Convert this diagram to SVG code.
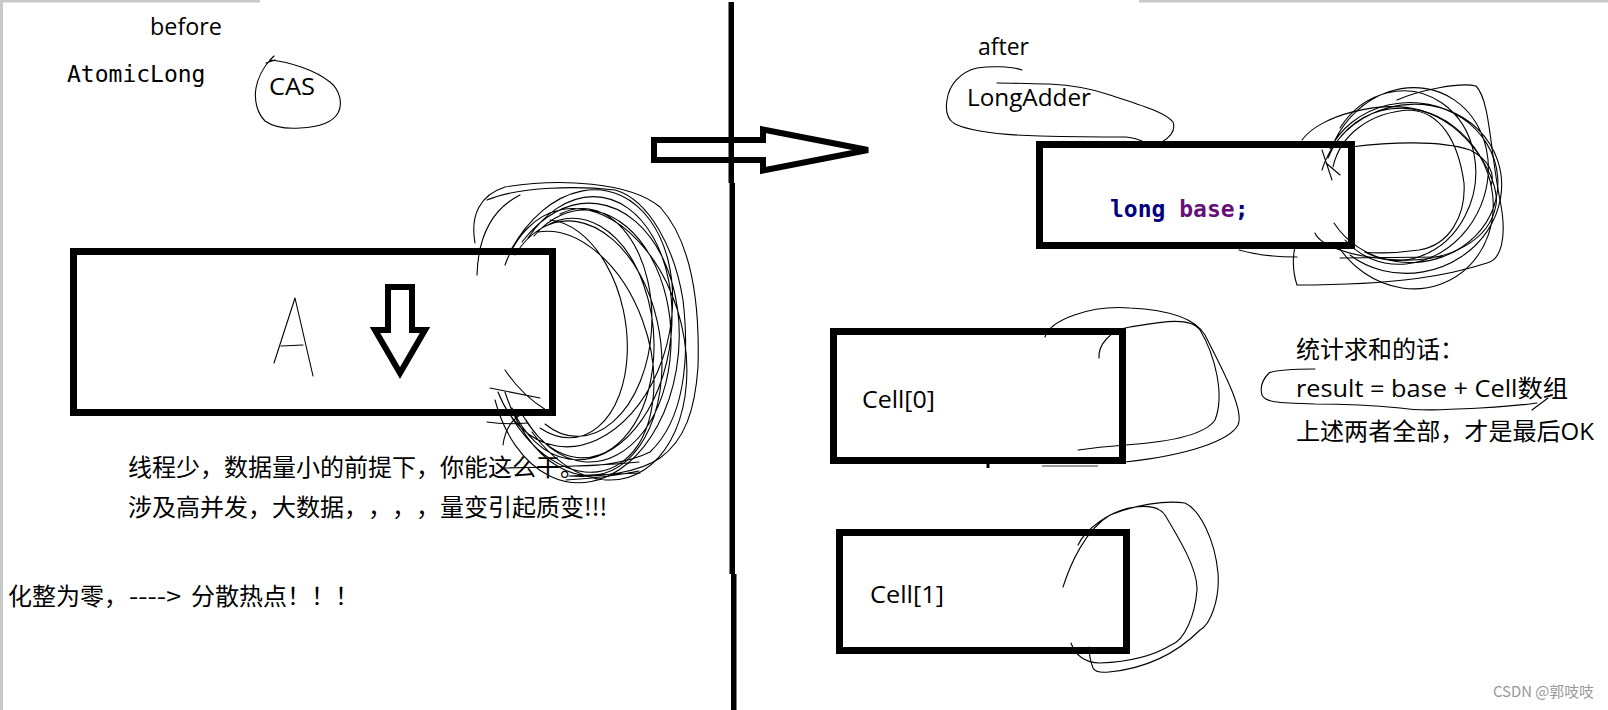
<svg xmlns="http://www.w3.org/2000/svg" width="1608" height="710" viewBox="0 0 1608 710">
<style>
text{text-spacing-trim:space-all}
.box{fill:none;stroke:#000;stroke-width:7}
.scr{fill:none;stroke:#000;stroke-width:1.1;stroke-linecap:round;stroke-linejoin:round}
.arr{fill:none;stroke:#000;stroke-width:6;stroke-linejoin:miter}
.cjk{font-family:"Noto Sans CJK SC",sans-serif;font-size:24px;fill:#000}
.sans{font-family:"Open Sans","Noto Sans CJK SC",sans-serif;font-size:24px;fill:#000}
.mono{font-family:"DejaVu Sans Mono","Liberation Mono",monospace;font-size:23px;fill:#000}
.frame{fill:#c8c8c8}
</style>
<rect width="1608" height="710" fill="#fff"/>
<g id="frame">
<rect class="frame" x="0" y="0" width="3" height="710"/>
<rect class="frame" x="0" y="0" width="260" height="2.5"/>
<rect class="frame" x="1139" y="0" width="469" height="2.5"/>
</g>
<g id="divider" fill="#000">
<rect x="728.5" y="2" width="5.5" height="181"/>
<rect x="729.5" y="183" width="5.5" height="391"/>
<rect x="731" y="574" width="5.5" height="136"/>
</g>
<g id="before-label"><text class="sans" x="150" y="35" font-size="23" textLength="72" lengthAdjust="spacingAndGlyphs">before</text></g>
<g id="atomiclong"><text class="mono" x="67" y="82">AtomicLong</text></g>
<g id="cas">
<text class="sans" x="269" y="95" font-size="25" textLength="46" lengthAdjust="spacingAndGlyphs">CAS</text>
<path class="scr" d="M270 60 C290 62 315 70 330 82 C340 90 343 104 338 113 C333 122 320 127 300 128 C285 129 272 126 265 121 C257 113 254 100 256 88 C258 77 263 68 270 60 L274 56 M266 63 L275 60"/>
</g>
<g id="box-a">
<rect class="box" x="73.5" y="251.5" width="479" height="161"/>
<path class="scr" d="M274 363 L295 298 L313 376 M281 346 L303 345" stroke-width="1.3"/>
<path class="scr" d="M515 255 A82 128 -8 1 1 505 392 M528 238 A86 132 6 1 1 512 408 M546 226 A76 120 -4 1 1 522 414 M505 265 A92 138 -14 1 1 532 432 M560 214 A72 114 2 1 1 545 424 M512 248 A90 130 12 1 1 498 392 M538 232 A80 124 -18 1 1 512 418 M522 242 A95 140 4 1 1 495 400 M550 220 A68 110 -10 1 1 540 428 M534 236 A84 126 -2 1 1 526 420"/>
<path class="scr" d="M475 243 C470 215 480 195 505 187 C560 178 630 182 660 207 C690 240 700 300 698 367 C695 410 685 440 660 458 C640 472 600 478 569 476 L640 473 M487 200 C520 186 580 186 615 190 C650 200 675 250 683 300 C690 360 684 420 650 452 C630 462 600 466 580 466 M501 468 C560 467 610 465 639 462 M566 480 C600 478 625 474 639 471 M505 370 C515 385 530 400 546 410 M487 422 C500 424 515 424 528 423 M490 388 L540 398 M477 275 C478 240 490 210 520 195 M503 445 C505 430 512 420 520 415"/>
</g>
<g id="notes-left">
<text class="cjk" x="128" y="476">线程少，数据量小的前提下，你能这么干。</text>
<text class="cjk" y="516"><tspan x="128">涉及高并发，大数据</tspan><tspan x="344">，</tspan><tspan x="368">，</tspan><tspan x="392">，</tspan><tspan x="416">，</tspan><tspan x="440">量变引起质变!!!</tspan></text>
<text class="cjk" y="605"><tspan x="8">化整为零，</tspan><tspan x="129" textLength="52" lengthAdjust="spacingAndGlyphs">----&gt;</tspan><tspan x="191">分散热点！！！</tspan></text>
</g>
<g id="connectors">
<path class="arr" d="M654 140 L763 140 L763 129.5 L868 150 L763 170.5 L763 160 L654 160 Z"/>
<path class="arr" d="M388 287 L412 287 L412 330 L425 330 L400 373 L375 330 L388 330 Z"/>
</g>
<g id="after-label"><text class="sans" x="978" y="55" font-size="22" textLength="51" lengthAdjust="spacingAndGlyphs">after</text></g>
<g id="longadder">
<text class="sans" x="967" y="106" font-size="22" textLength="124" lengthAdjust="spacingAndGlyphs">LongAdder</text>
<path class="scr" d="M1022 70 C1010 66 990 66 977 68 C960 72 949 85 947 100 C945 112 948 120 955 124 C970 131 1000 135 1040 136 C1080 137 1110 137 1126 137 C1135 138 1140 140 1144 142 M997 83 C1015 83 1035 84 1049 84 C1070 85 1090 88 1110 95 C1140 105 1165 112 1173 122 C1176 130 1170 137 1162 142"/>
</g>
<g id="box-base">
<rect class="box" x="1039.5" y="144.5" width="312" height="101"/>
<text class="mono" x="1110" y="217" font-weight="bold"><tspan fill="#000080">long</tspan> <tspan fill="#660e7a">base</tspan><tspan fill="#000080">;</tspan></text>
<path class="scr" d="M1330 149 A88 80 0 1 1 1334 223 M1335 140 A80 90 25 1 1 1345 240 M1322 170 A92 84 -15 1 1 1350 255 M1340 128 A75 85 10 1 1 1365 252 M1328 158 A84 92 -28 1 1 1338 246"/>
<path class="scr" d="M1302 140 C1320 115 1380 100 1420 110 C1470 125 1500 180 1496 205 C1490 240 1450 262 1400 260 C1350 258 1320 245 1315 233 M1397 100 C1420 90 1460 82 1476 86 C1490 100 1490 150 1500 200 C1508 240 1500 260 1487 263 C1450 275 1400 285 1297 285 C1292 270 1293 255 1295 247 M1351 147 C1390 142 1440 140 1470 150 C1490 160 1495 175 1491 185 M1239 250 C1260 256 1280 257 1297 257 M1340 258 L1442 257 M1333 167 C1340 135 1370 112 1410 110 C1440 112 1458 140 1464 183 C1466 215 1450 245 1419 250 C1390 254 1370 253 1365 252 M1322 150 L1332 180 M1326 163 L1340 175"/>
</g>
<g id="cell0">
<rect class="box" x="833.5" y="331.5" width="289" height="129"/>
<text class="sans" x="862" y="408" textLength="73" lengthAdjust="spacingAndGlyphs">Cell[0]</text>
<path d="M988 463 L988 468" stroke="#000" stroke-width="3"/>
<path d="M1042 466 L1098 466" stroke="#777" stroke-width="1.5"/>
<path class="scr" d="M1045 337 C1050 320 1090 305 1130 308 C1170 310 1195 318 1205 335 C1220 365 1245 410 1238 425 C1230 440 1190 455 1125 462 M1099 358 C1098 345 1110 330 1130 327 C1160 322 1190 316 1200 330 C1215 355 1225 395 1215 420 C1205 435 1170 442 1125 445 C1100 447 1085 449 1078 450"/>
</g>
<g id="cell1">
<rect class="box" x="839.5" y="532.5" width="287" height="118"/>
<text class="sans" x="870" y="603" textLength="74" lengthAdjust="spacingAndGlyphs">Cell[1]</text>
<path class="scr" d="M1078 545 C1085 530 1110 510 1135 507 C1150 505 1160 508 1165 515 C1180 540 1198 570 1197 590 C1195 615 1185 640 1171 645 C1150 658 1125 662 1100 663 C1085 663 1075 655 1071 643 M1063 587 C1070 565 1085 530 1110 515 C1135 505 1165 500 1185 503 C1200 510 1215 540 1218 573 C1220 600 1210 625 1200 630 C1180 650 1150 668 1109 672 C1100 673 1095 672 1093 668 C1090 660 1089 652 1089 647"/>
</g>
<g id="sum-note">
<text class="cjk" x="1296" y="358">统计求和的话：</text>
<text class="sans" x="1296" y="397" textLength="272" lengthAdjust="spacingAndGlyphs">result = base + Cell数组</text>
<text class="sans" x="1296" y="440" textLength="298" lengthAdjust="spacingAndGlyphs">上述两者全部，才是最后OK</text>
<path class="scr" d="M1315 369 C1295 369 1275 370 1269 373 C1262 380 1260 388 1262 395 C1265 402 1275 403 1315 404 C1350 404 1380 406 1400 408 C1420 411 1440 410 1480 408 C1510 406 1525 405 1537 403 M1532 410 L1548 398"/>
</g>
<g id="watermark"><text x="1493" y="697" font-family="Noto Sans CJK SC, sans-serif" font-size="15" fill="#999" textLength="101" lengthAdjust="spacingAndGlyphs">CSDN @郭吱吱</text></g>
</svg>
